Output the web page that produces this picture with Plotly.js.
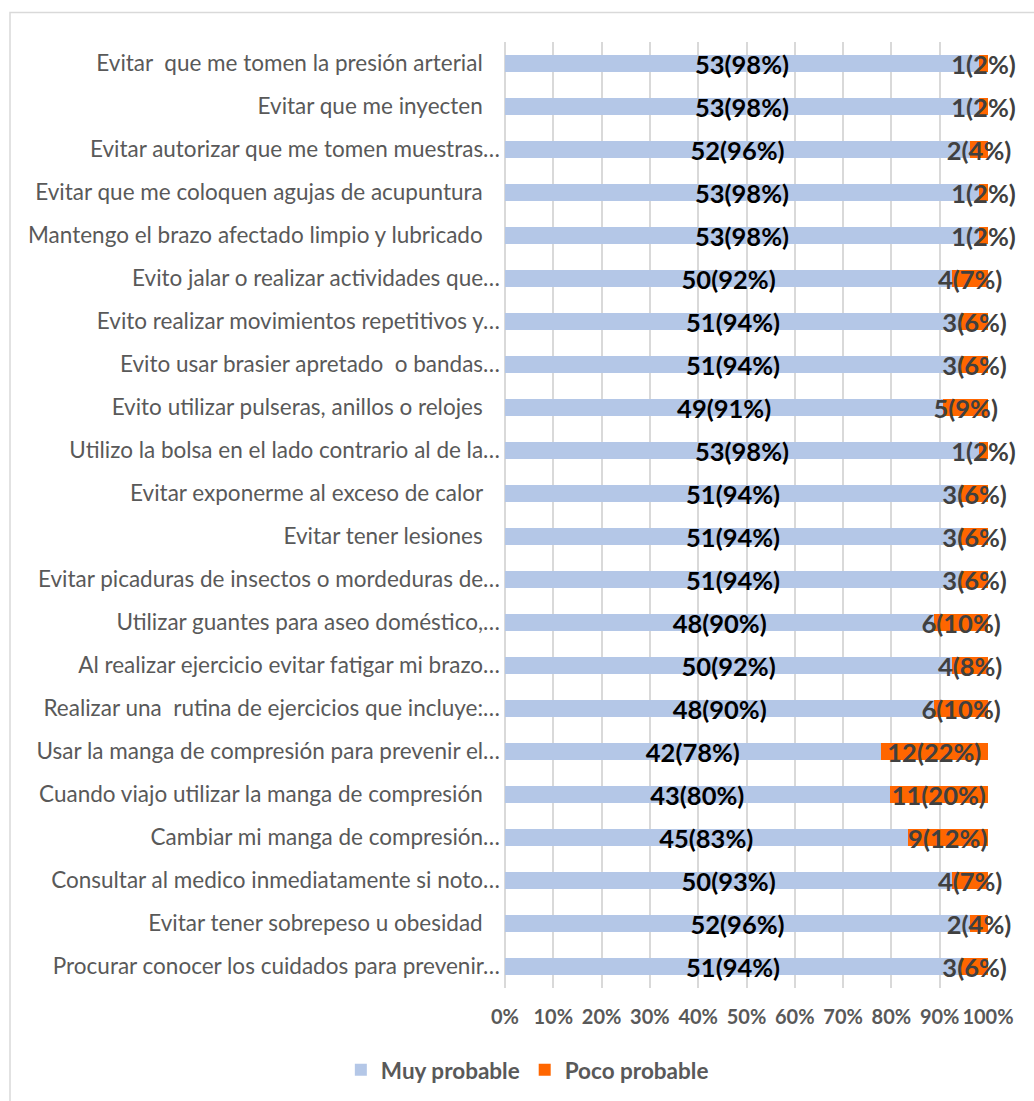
<!DOCTYPE html>
<html>
<head>
<meta charset="utf-8">
<script src="https://cdn.plot.ly/plotly-3.0.1.min.js"></script>
<style>html,body{margin:0;padding:0;background:#fff;}#chart{width:1034px;height:1101px;}</style>
</head>
<body>
<div id="chart"></div>
<script>
const NB = '\u00a0';
const categories = [
  "Evitar\u00a0 que me tomen la presión arterial ",
  "Evitar que me inyecten ",
  "Evitar autorizar que me tomen muestras…",
  "Evitar que me coloquen agujas de acupuntura ",
  "Mantengo el brazo afectado limpio y lubricado ",
  "Evito jalar o realizar actividades que…",
  "Evito realizar movimientos repetitivos y…",
  "Evito usar brasier apretado\u00a0 o bandas…",
  "Evito utilizar pulseras, anillos o relojes ",
  "Utilizo la bolsa en el lado contrario al de la…",
  "Evitar exponerme al exceso de calor ",
  "Evitar tener lesiones ",
  "Evitar picaduras de insectos o mordeduras de…",
  "Utilizar guantes para aseo doméstico,…",
  "Al realizar ejercicio evitar fatigar mi brazo…",
  "Realizar una\u00a0 rutina de ejercicios que incluye:…",
  "Usar la manga de compresión para prevenir el…",
  "Cuando viajo utilizar la manga de compresión ",
  "Cambiar mi manga de compresión…",
  "Consultar al medico inmediatamente si noto…",
  "Evitar tener sobrepeso u obesidad ",
  "Procurar conocer los cuidados para prevenir…"
];
const muyN   = [53,53,52,53,53,50,51,51,49,53,51,51,51,48,50,48,42,43,45,50,52,51];
const muyPct = [98,98,96,98,98,92,94,94,91,98,94,94,94,90,92,90,78,80,83,93,96,94];
const pocoN   = [1,1,2,1,1,4,3,3,5,1,3,3,3,6,4,6,12,11,9,4,2,3];
const pocoPct = [2,2,4,2,2,7,6,6,9,2,6,6,6,10,8,10,22,20,12,7,4,6];
const xTicks = [0,10,20,30,40,50,60,70,80,90,100];

const catLabels = categories.map(c => c.endsWith(' ') ? c.trim() + NB + NB + NB : c);

const muyText = muyN.map((v,i) => v + '(' + muyPct[i] + '%)');
const pocoText = pocoN.map((v,i) => v + '(' + pocoPct[i] + '%)');

const common = {
  type: 'bar', orientation: 'h', y: catLabels,
  textposition: 'inside', insidetextanchor: 'middle', constraintext: 'none',
  textangle: 0, cliponaxis: false, hoverinfo: 'skip'
};
const traces = [
  Object.assign({}, common, {
    name: 'Muy probable', x: muyN, text: muyText,
    marker: {color: '#b4c7e7'},
    textfont: {family: 'Lato', size: 25.5, color: '#000000', weight: 'bold'}
  }),
  Object.assign({}, common, {
    name: 'Poco probable', x: pocoN, text: pocoText,
    marker: {color: '#ff6600'},
    textfont: {family: 'Lato', size: 25.5, color: '#404040', weight: 'bold'}
  })
];

const layout = {
  width: 1034, height: 1101,
  margin: {l: 505, r: 46, t: 42, b: 113, pad: 0},
  paper_bgcolor: '#ffffff', plot_bgcolor: '#ffffff',
  barmode: 'stack', barnorm: 'percent', bargap: 0.6,
  showlegend: true,
  font: {family: 'Lato', color: '#595959'},
  xaxis: {
    range: [0, 100], tickvals: xTicks, ticktext: xTicks.map(v => v + '%'),
    showgrid: true, gridcolor: '#d9d9d9', gridwidth: 2,
    zeroline: true, zerolinecolor: '#d9d9d9', zerolinewidth: 2,
    showline: false, ticks: '', fixedrange: true, ticklabelstandoff: 15,
    tickangle: 0, automargin: false, ticklabeloverflow: 'allow',
    tickfont: {family: 'Lato', size: 20, color: '#595959', weight: 'bold'}
  },
  yaxis: {
    type: 'category', autorange: 'reversed', showgrid: false, zeroline: false,
    showline: false, ticks: '', ticklabelstandoff: 4, fixedrange: true,
    tickfont: {family: 'Lato', size: 22.5, color: '#595959'}
  },
  legend: {
    orientation: 'h', xref: 'container', yref: 'container',
    x: 0.51, xanchor: 'center', y: 0.028, yanchor: 'middle',
    font: {family: 'Lato', size: 22.5, color: '#595959', weight: 'bold'},
    itemwidth: 30, traceorder: 'normal'
  },
  shapes: [{
    type: 'rect', xref: 'paper', yref: 'paper', layer: 'below',
    x0: (10 - 505) / 483, x1: (1045 - 505) / 483,
    y0: (987.5 - 1115) / 946, y1: (987.5 - 12) / 946,
    line: {color: '#d9d9d9', width: 1.5}, fillcolor: 'rgba(0,0,0,0)'
  }]
};

Plotly.newPlot('chart', traces, layout, {displayModeBar: false, staticPlot: true});
</script>
</body>
</html>
